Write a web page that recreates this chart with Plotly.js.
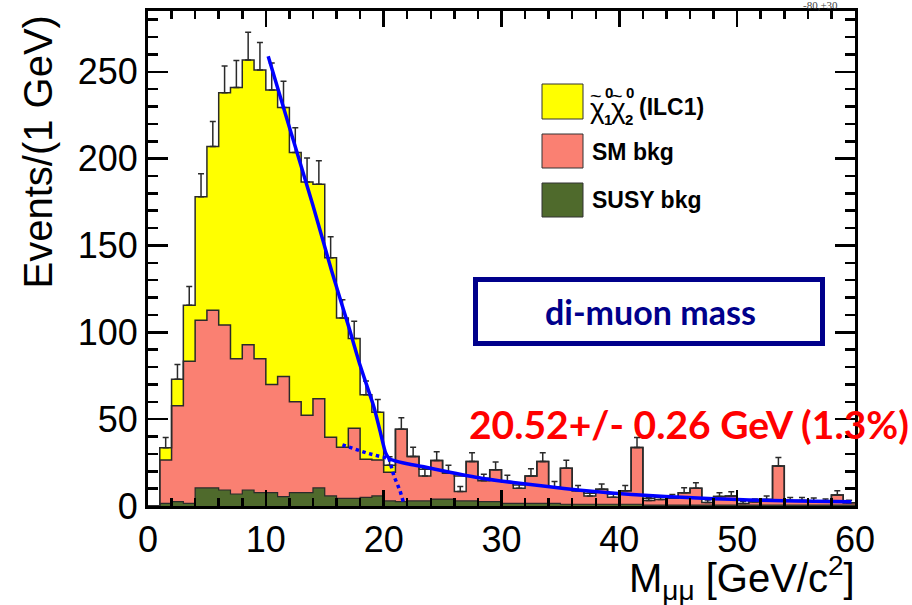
<!DOCTYPE html>
<html><head><meta charset="utf-8">
<script src="https://cdn.plot.ly/plotly-3.0.1.min.js"></script>
<style>html,body{margin:0;padding:0;background:#fff}</style>
</head><body><div id="chart" style="width:912px;height:605px"></div>
<script>
// ---- data (1 GeV bins, 0..60 GeV) ----
const massBinEdges = [0,1,2,3,4,5,6,7,8,9,10,11,12,13,14,15,16,17,18,19,20,21,22,23,24,25,26,27,28,29,30,31,32,33,34,35,36,37,38,39,40,41,42,43,44,45,46,47,48,49,50,51,52,53,54,55,56,57,58,59,60];
// signal chi1 chi2 (ILC1) contribution per bin (negative where total is below the SM stack)
const signal = [0,7.1,15.3,32.3,71,94.3,133.8,156.2,163.9,166.2,169.5,154.9,143.5,134.3,123.5,103.4,74.5,51.7,37.1,27.5,4.1,0,0,-3.9,0,0,-9,0,-1.5,0,0,-1.9,0,0,0,0,0,-1.5,0,-1.9,0,0,-1.3,-1.2,0,0,0,-2.4,0,0,-2,0,0,0,0,0,0,0,0,0];
const smBkg = [0,25.0,55.2,81.8,96.6,102.3,95.0,77.9,83.7,77.1,62.3,69.2,52.3,44.6,51.3,33.8,29.4,40.4,21.9,20.7,16.4,41.7,25.5,18.2,22.2,15,14.3,22.6,13.5,18.3,12.5,10.6,15.8,24.1,9.3,20.7,7.8,6.3,8.6,5.9,7.8,32.7,3.9,4.5,4.0,7.2,9.7,3.9,4.9,5.3,3.0,2.0,3.3,22.6,2.6,2.6,2.4,2.0,5.8,1.4];
const susyBkg = [0,1.5,2.5,1.5,10.4,10.4,9.2,6.9,9.2,7.7,7.7,5.4,7.7,7.7,10.4,5.8,4.4,4.4,5,5.8,3,2.5,3,3,4,4,3,3,2.5,2.5,1.5,1.5,1.5,1.5,1.5,1,1,1,1,1,1,1,0.5,0.5,0.5,0.5,0.5,0.5,0.5,0.5,0.5,0.5,0.5,0.5,0.5,0.5,0.5,0.5,0.5,0.5];
const statErr = [0,5.8,8.5,10.8,13.3,14.4,15.4,15.5,16.0,15.8,15.5,15.1,14.3,13.7,13.6,12.0,10.4,9.8,8.0,7.3,4.8,6.6,5.3,4.2,5.1,4.4,2.9,5.1,3.8,4.6,3.7,3.2,4.2,5.1,3.3,4.7,3.0,2.4,3.1,2.2,3.0,5.8,1.8,1.9,2.1,2.8,3.2,1.4,2.3,2.4,1.2,1.6,1.9,4.8,1.8,1.8,1.7,1.6,2.5,1.4];
// fitted curve (edge + background)
const fitX = [10.2,12,14,15.6,17,18,19.17,19.7,20.17,20.45,20.9,22,23.5,25,28.3,31,33.9,36.7,39.6,42.5,45.3,48,51,55,59.7];
const fitY = [259,218,173,135,104,81,57,43,30.5,27.5,26.1,24.3,22.4,20.3,16,13.5,11.2,9.1,7.3,6,5,4.2,3.5,2.9,2.5];
// dotted background continuation under the edge
const bkgExtX = [16.5,17.5,18.6,19.74,20.45];
const bkgExtY = [35.2,32.7,30.4,28.4,27.5];
// dotted edge continuation down to zero
const edgeExtX = [20.45,20.88,21.17,21.4,21.73];
const edgeExtY = [27.5,17,12.5,8.5,1];
const xTickVals = [0,10,20,30,40,50,60];
const yTickVals = [0,50,100,150,200,250];

// ---- derived stack levels ----
const lowEdges = massBinEdges.slice(0, -1);
const centers = lowEdges.map(v => v + 0.5);
const susyTop = susyBkg.slice();
const smTop = smBkg.map((v, i) => v + susyBkg[i]);
const total = smTop.map((v, i) => v + signal[i]);
const yellowFill = total.map((v, i) => signal[i] > 0 ? v : null);
const salmonFill = smTop.map((v, i) => Math.min(v, total[i]));
const greenFill = susyTop.map((v, i) => Math.min(v, total[i]));
const step = arr => arr.concat([arr[arr.length - 1]]);
const hasErr = total.map(v => v > 0);

const YEL = '#ffff00', SAL = '#fa8072', GRN = '#4f6a2c', OUT = '#2a2a2a';

const traces = [
  {type:'bar', x:centers, y:yellowFill, width:1, marker:{color:YEL, line:{width:0}}, hoverinfo:'skip'},
  {type:'bar', x:centers, y:salmonFill, width:1, marker:{color:SAL, line:{width:0}}, hoverinfo:'skip'},
  {type:'bar', x:centers, y:greenFill, width:1, marker:{color:GRN, line:{width:0}}, hoverinfo:'skip'},
  {type:'scatter', mode:'lines', x:massBinEdges, y:step(total), line:{shape:'hv', color:OUT, width:1.5}, hoverinfo:'skip'},
  {type:'scatter', mode:'lines', x:massBinEdges, y:step(smTop), line:{shape:'hv', color:OUT, width:1.5}, hoverinfo:'skip'},
  {type:'scatter', mode:'lines', x:massBinEdges, y:step(susyTop), line:{shape:'hv', color:OUT, width:1.2}, hoverinfo:'skip'},
  {type:'scatter', mode:'markers', x:centers.filter((c,i)=>hasErr[i]), y:total.filter((v,i)=>hasErr[i]),
   marker:{size:1, color:'rgba(0,0,0,0)'},
   error_y:{type:'data', symmetric:false, array:statErr.filter((e,i)=>hasErr[i]),
     arrayminus:statErr.filter((e,i)=>hasErr[i]).map(()=>0), color:OUT, thickness:1.5, width:3}, hoverinfo:'skip'},
  {type:'scatter', mode:'lines', x:bkgExtX, y:bkgExtY, line:{color:'#0000ff', width:3.5, dash:'dot'}, hoverinfo:'skip'},
  {type:'scatter', mode:'lines', x:edgeExtX, y:edgeExtY, line:{color:'#0000ff', width:3.5, dash:'dot'}, hoverinfo:'skip'},
  {type:'scatter', mode:'lines', x:fitX, y:fitY, line:{color:'#0000ff', width:3.5, shape:'spline', smoothing:0.6}, hoverinfo:'skip'}
];

// pixel -> paper helpers for decorations
const L = 148, R = 855, T = 11, B = 506;
const px = v => (v - L) / (R - L);
const py = v => (B - v) / (B - T);

const FONT = 'Liberation Sans, Arial, sans-serif';
const NAVY = '#00008b';

const shapes = [
  {type:'rect', xref:'paper', yref:'paper', x0:px(542), x1:px(583), y0:py(84), y1:py(119), fillcolor:YEL, line:{color:'#333', width:1}},
  {type:'rect', xref:'paper', yref:'paper', x0:px(542), x1:px(583), y0:py(134), y1:py(168), fillcolor:SAL, line:{color:'#333', width:1}},
  {type:'rect', xref:'paper', yref:'paper', x0:px(542), x1:px(583), y0:py(183), y1:py(217), fillcolor:GRN, line:{color:'#333', width:1}},
  {type:'rect', xref:'paper', yref:'paper', x0:px(475.5), x1:px(822.5), y0:py(279.5), y1:py(343.5), fillcolor:'#ffffff', line:{color:NAVY, width:5}}
];

function ann(text, x, y, size, opts) {
  return Object.assign({text:text, xref:'paper', yref:'paper', x:px(x), y:py(y), showarrow:false,
    xanchor:'left', yanchor:'middle', font:{family:FONT, size:size, color:'#000'}}, opts || {});
}

const annotations = [
  // legend label for the signal: tilde-chi with stacked super/subscripts
  ann('χ', 588, 108, 28),
  ann('~', 596, 96, 20, {xanchor:'center'}),
  ann('<b>0</b>', 603, 92, 15),
  ann('<b>1</b>', 602, 120, 15),
  ann('χ', 609, 108, 28),
  ann('~', 617, 96, 20, {xanchor:'center'}),
  ann('<b>0</b>', 624, 92, 15),
  ann('<b>2</b>', 623, 120, 15),
  ann('<b>(ILC1)</b>', 637, 107, 23),
  ann('<b>SM bkg</b>', 590, 152, 23),
  ann('<b>SUSY bkg</b>', 590, 200, 23),
  ann('<b>di-muon mass</b>', 650, 312, 34, {xanchor:'center', font:{family:'Lato, Carlito, sans-serif', size:34, color:NAVY}}),
  ann('<b>20.52+/- 0.26 GeV (1.3%)</b>', 467, 424, 39, {font:{family:'Lato, Carlito, sans-serif', size:39, color:'#ff0000'}}),
  ann('Events/(1 GeV)', 37, 14, 40, {xanchor:'center', yanchor:'top', textangle:-90}),
  ann('M<sub>μμ</sub> [GeV/c<sup>2</sup>]', 857, 578, 40, {xanchor:'right'}),
  ann('-80,+30', 820, 5, 11, {xanchor:'center', font:{family:'Liberation Serif, serif', size:11, color:'#444'}})
];

const axisCommon = {
  showgrid:false, zeroline:false, showline:true, linecolor:'#000', linewidth:3, mirror:'allticks',
  ticks:'inside', tickcolor:'#000', tickwidth:2.5,
  tickfont:{family:FONT, size:36, color:'#000'}, fixedrange:true
};

const layout = {
  width:912, height:605, margin:{l:L, r:912-R, t:T, b:605-B, pad:0},
  paper_bgcolor:'#fff', plot_bgcolor:'#fff', showlegend:false, barmode:'overlay', bargap:0,
  xaxis:Object.assign({}, axisCommon, {range:[0,60], tickvals:xTickVals, ticklen:16,
    minor:{ticks:'inside', dtick:2, ticklen:8, tickwidth:2.5, tickcolor:'#000'}}),
  yaxis:Object.assign({}, axisCommon, {range:[0,285], tickvals:yTickVals, ticklen:20,
    minor:{ticks:'inside', dtick:10, ticklen:10, tickwidth:2.5, tickcolor:'#000'}}),
  shapes:shapes, annotations:annotations
};

Plotly.newPlot('chart', traces, layout, {displayModeBar:false, staticPlot:true});
</script></body></html>
